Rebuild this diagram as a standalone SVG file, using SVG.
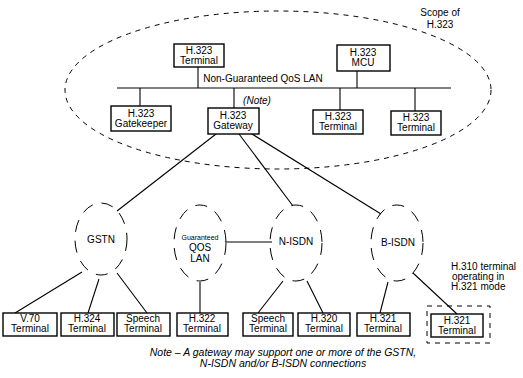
<svg xmlns="http://www.w3.org/2000/svg" width="523" height="378" viewBox="0 0 523 378">
<style>
text{font-family:"Liberation Sans",Arial,sans-serif;font-size:10px;fill:#000;text-anchor:middle}
.box{fill:#fff;stroke:#000;stroke-width:1.4}
.ln{stroke:#000;stroke-width:1.1;fill:none}
.scope{fill:none;stroke:#000;stroke-width:1;stroke-dasharray:5 5}
.cloud{fill:none;stroke:#000;stroke-width:1;stroke-dasharray:12 9}
.it{font-style:italic}
.sm{font-size:7px}
.lft{text-anchor:start}
.nt{font-style:italic;font-size:10.5px}
</style>
<rect width="523" height="378" fill="#fff"/>
<ellipse class="scope" cx="278" cy="90" rx="213" ry="79"/>
<text x="440" y="16">Scope of</text>
<text x="440" y="28">H.323</text>

<g id="connectors">
<line class="ln" x1="117" y1="88" x2="451" y2="88"/>
<line class="ln" x1="198" y1="67" x2="198" y2="88"/>
<line class="ln" x1="357" y1="71" x2="357" y2="88"/>
<line class="ln" x1="140" y1="88" x2="140" y2="106"/>
<line class="ln" x1="234" y1="88" x2="234" y2="108"/>
<line class="ln" x1="340" y1="88" x2="340" y2="110"/>
<line class="ln" x1="415" y1="88" x2="415" y2="111"/>
<line class="ln" x1="216" y1="134" x2="117" y2="211"/>
<line class="ln" x1="239" y1="134" x2="293" y2="206"/>
<line class="ln" x1="252" y1="134" x2="381" y2="214"/>
<line class="ln" x1="225" y1="242" x2="272" y2="242"/>
<line class="ln" x1="82" y1="272" x2="15" y2="313"/>
<line class="ln" x1="99" y1="279" x2="88" y2="313"/>
<line class="ln" x1="117" y1="273" x2="147" y2="313"/>
<line class="ln" x1="200" y1="282" x2="200" y2="313"/>
<line class="ln" x1="283" y1="281" x2="258" y2="313"/>
<line class="ln" x1="307" y1="281" x2="323" y2="313"/>
<line class="ln" x1="388" y1="282" x2="380" y2="313"/>
<line class="ln" x1="413" y1="273" x2="457" y2="314"/>
</g>
<text x="263" y="82">Non-Guaranteed QoS LAN</text>
<text class="it" x="257" y="104">(Note)</text>

<g id="term-top"><rect class="box" x="174" y="44" width="50" height="23"/><text x="199" y="54">H.323</text><text x="199" y="64">Terminal</text></g>
<g id="mcu"><rect class="box" x="337" y="45" width="53" height="26"/><text x="363" y="56">H.323</text><text x="363" y="66">MCU</text></g>
<g id="gatekeeper"><rect class="box" x="111" y="106" width="60" height="25"/><text x="141" y="117">H.323</text><text x="141" y="127">Gatekeeper</text></g>
<g id="gateway"><rect class="box" x="208" y="108" width="51" height="26"/><text x="233" y="119">H.323</text><text x="233" y="129">Gateway</text></g>
<g id="term3"><rect class="box" x="313" y="110" width="50" height="24"/><text x="338" y="120">H.323</text><text x="338" y="130">Terminal</text></g>
<g id="term4"><rect class="box" x="391" y="111" width="50" height="24"/><text x="416" y="121">H.323</text><text x="416" y="131">Terminal</text></g>

<g id="gstn"><ellipse class="cloud" cx="101" cy="239" rx="26" ry="36"/><text x="101" y="243">GSTN</text></g>
<g id="qoslan"><ellipse class="cloud" cx="200" cy="243" rx="26" ry="38"/><text class="sm" x="200" y="240">Guaranteed</text><text x="200" y="251">QOS</text><text x="200" y="262">LAN</text></g>
<g id="nisdn"><ellipse class="cloud" cx="296" cy="243" rx="26" ry="38"/><text x="296" y="245">N-ISDN</text></g>
<g id="bisdn"><ellipse class="cloud" cx="397" cy="243" rx="26" ry="38"/><text x="398" y="246">B-ISDN</text></g>

<g id="v70"><rect class="box" x="3" y="313" width="54" height="23"/><text x="30" y="322">V.70</text><text x="30" y="332">Terminal</text></g>
<g id="h324"><rect class="box" x="61" y="313" width="53" height="23"/><text x="87" y="322">H.324</text><text x="87" y="332">Terminal</text></g>
<g id="speech1"><rect class="box" x="117" y="313" width="53" height="23"/><text x="143" y="322">Speech</text><text x="143" y="332">Terminal</text></g>
<g id="h322"><rect class="box" x="177" y="313" width="51" height="23"/><text x="202" y="322">H.322</text><text x="202" y="332">Terminal</text></g>
<g id="speech2"><rect class="box" x="243" y="313" width="50" height="23"/><text x="268" y="322">Speech</text><text x="268" y="332">Terminal</text></g>
<g id="h320"><rect class="box" x="298" y="313" width="52" height="23"/><text x="324" y="322">H.320</text><text x="324" y="332">Terminal</text></g>
<g id="h321a"><rect class="box" x="357" y="313" width="53" height="23"/><text x="383" y="322">H.321</text><text x="383" y="332">Terminal</text></g>
<g id="h321b"><rect class="scope" x="427" y="306" width="63" height="37"/><rect class="box" x="431" y="314" width="52" height="23"/><text x="457" y="324">H.321</text><text x="457" y="334">Terminal</text></g>
<text class="lft" x="451" y="270">H.310 terminal</text>
<text class="lft" x="452" y="280">operating in</text>
<text class="lft" x="451" y="290">H.321 mode</text>

<text class="nt" x="283" y="356">Note – A gateway may support one or more of the GSTN,</text>
<text class="nt" x="283" y="367">N-ISDN and/or B-ISDN connections</text>
</svg>
